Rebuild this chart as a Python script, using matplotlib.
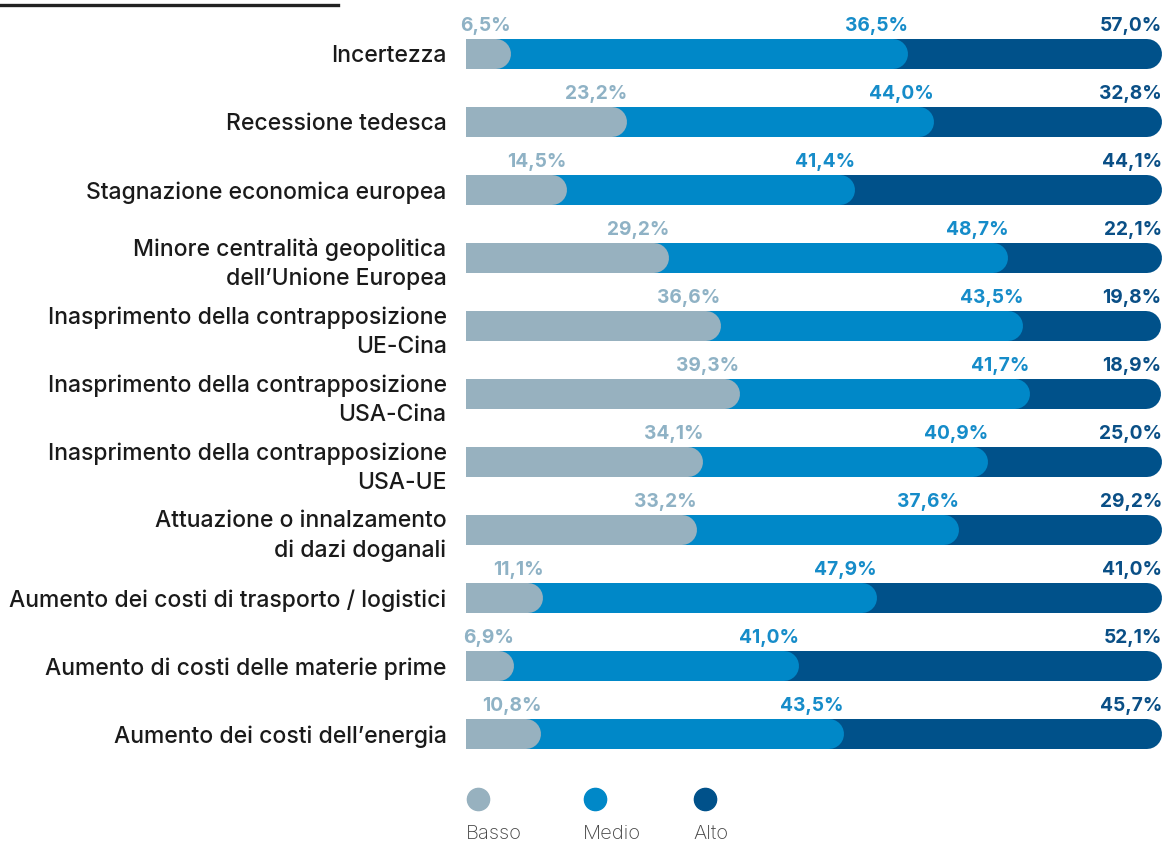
import matplotlib
matplotlib.use("Agg")
import matplotlib.pyplot as plt
from matplotlib.lines import Line2D

plt.rcParams['font.family'] = ['Inter', 'DejaVu Sans']

categorie = [
    "Incertezza",
    "Recessione tedesca",
    "Stagnazione economica europea",
    "Minore centralità geopolitica\ndell\u2019Unione Europea",
    "Inasprimento della contrapposizione\nUE-Cina",
    "Inasprimento della contrapposizione\nUSA-Cina",
    "Inasprimento della contrapposizione\nUSA-UE",
    "Attuazione o innalzamento\ndi dazi doganali",
    "Aumento dei costi di trasporto / logistici",
    "Aumento di costi delle materie prime",
    "Aumento dei costi dell\u2019energia",
]

# segment widths as drawn in the source (first row: medio drawn 57,0 wide)
basso = [6.5, 23.2, 14.5, 29.2, 36.6, 39.3, 34.1, 33.2, 11.1, 6.9, 10.8]
medio = [57.0, 44.0, 41.4, 48.7, 43.5, 41.7, 40.9, 37.6, 47.9, 41.0, 43.5]
alto = [36.5, 32.8, 44.1, 22.1, 19.8, 18.9, 25.0, 29.2, 41.0, 52.1, 45.7]

# value labels as printed in the source
basso_lbl = ["6,5%", "23,2%", "14,5%", "29,2%", "36,6%", "39,3%", "34,1%", "33,2%", "11,1%", "6,9%", "10,8%"]
medio_lbl = ["36,5%", "44,0%", "41,4%", "48,7%", "43,5%", "41,7%", "40,9%", "37,6%", "47,9%", "41,0%", "43,5%"]
alto_lbl = ["57,0%", "32,8%", "44,1%", "22,1%", "19,8%", "18,9%", "25,0%", "29,2%", "41,0%", "52,1%", "45,7%"]

serie = ["Basso", "Medio", "Alto"]
colori = ["#97b1bf", "#0088c8", "#00518a"]
colori_lbl = ["#8fb2c5", "#168cc9", "#0a4f86"]

W, H = 1165, 843
fig = plt.figure(figsize=(W / 100, H / 100), dpi=100)

# axes geometry in pixels
x0, x1 = 466, 1162
row_h = 68
top, bottom = 20, 20 + row_h * len(categorie)
ax = fig.add_axes([x0 / W, 1 - bottom / H, (x1 - x0) / W, (bottom - top) / H])
ax.set_xlim(0, 100)
ax.set_ylim(len(categorie) - 0.5, -0.5)

bar_px = 30
lw = bar_px * 72 / 100
cap = (bar_px / 2) / (x1 - x0) * 100  # round cap length in data units

for i in range(len(categorie)):
    ends = [basso[i], basso[i] + medio[i], basso[i] + medio[i] + alto[i]]
    for k in (2, 1, 0):
        ax.plot([0, ends[k] - cap], [i, i], color=colori[k], lw=lw,
                solid_capstyle='round', clip_on=True)
    for k, lbl in enumerate([basso_lbl[i], medio_lbl[i], alto_lbl[i]]):
        ax.text(ends[k], i - 23 / row_h, lbl, ha='right', va='baseline',
                fontsize=13.8, fontweight='bold', color=colori_lbl[k])

ax.set_yticks(range(len(categorie)))
ax.set_yticklabels(categorie, fontsize=16.5, fontweight='medium',
                   color="#1a1a1a", linespacing=1.4)
ax.tick_params(axis='y', length=0, pad=14)
ax.set_xticks([])
for s in ax.spines.values():
    s.set_visible(False)

# top rule
fig.add_artist(Line2D([0, 338 / W], [1 - 5 / H, 1 - 5 / H], color="#222222",
                      lw=2.4, transform=fig.transFigure))

# legend
leg_x = [466, 583, 693]
for k, nome in enumerate(serie):
    fig.add_artist(Line2D([(leg_x[k] + 12) / W], [1 - 799 / H], marker='o',
                          markersize=16, color=colori[k], lw=0,
                          transform=fig.transFigure))
    fig.text(leg_x[k] / W, 1 - 834 / H, nome, ha='left', va='center',
             fontsize=14.5, fontweight='light', color="#444444")

fig.savefig("out.png", dpi=100)
